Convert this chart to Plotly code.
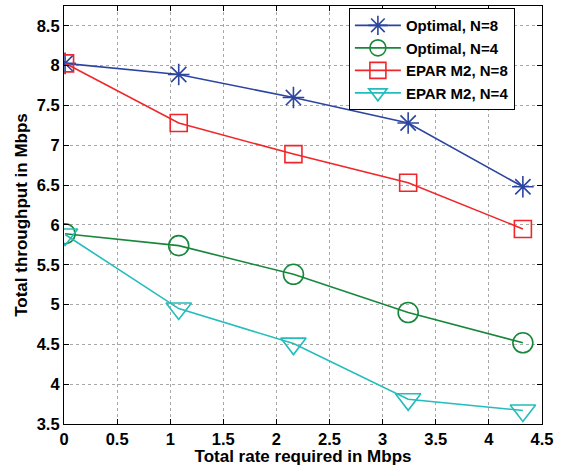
import plotly.graph_objects as go

# Required total rate (Mbps)
rate = [0.01, 1.08, 2.16, 3.24, 4.32]

# Total throughput (Mbps) per scheme
optimal_n8 = [8.03, 7.89, 7.60, 7.28, 6.48]
optimal_n4 = [5.89, 5.74, 5.38, 4.90, 4.52]
epar_n8 = [8.03, 7.28, 6.89, 6.53, 5.95]
epar_n4 = [5.88, 4.95, 4.51, 3.81, 3.67]

series = [
    ("Optimal, N=8", optimal_n8, "#2b45a0", "asterisk-open", 18),
    ("Optimal, N=4", optimal_n4, "#17873a", "circle-open", 20),
    ("EPAR M2, N=8", epar_n8, "#f0272a", "square-open", 17),
    ("EPAR M2, N=4", epar_n4, "#24bcbc", "triangle-down-open", 22),
]

fig = go.Figure()
for name, ys, color, symbol, size in series:
    fig.add_trace(go.Scatter(
        x=rate, y=ys, name=name, mode="lines+markers",
        line=dict(color=color, width=1.6),
        marker=dict(symbol=symbol, size=size, color=color,
                    line=dict(color=color, width=1.6)),
    ))

axis_common = dict(
    showline=True, linecolor="black", linewidth=1.2, mirror="ticks",
    ticks="inside", ticklen=5, tickcolor="black",
    showgrid=True, gridcolor="#a8a8a8", griddash="dot", gridwidth=1,
    zeroline=False,
    tickfont=dict(family="Liberation Sans, Arial", size=16.5, color="black", weight="bold"),
)

fig.update_layout(
    width=563, height=466,
    margin=dict(l=64, r=21, t=5, b=41),
    paper_bgcolor="white", plot_bgcolor="white",
    font=dict(family="Liberation Sans, Arial", color="black"),
    xaxis=dict(range=[0, 4.5], tick0=0, dtick=0.5,
               title=dict(text="Total rate required in Mbps", standoff=1,
                          font=dict(size=17, weight="bold")),
               **axis_common),
    yaxis=dict(range=[3.5, 8.75], tickvals=[3.5, 4, 4.5, 5, 5.5, 6, 6.5, 7, 7.5, 8, 8.5],
               ticktext=["3.5", "4", "4.5", "5", "5.5", "6", "6.5", "7", "7.5", "8", "8.5"],
               title=dict(text="Total throughput in Mbps", standoff=4,
                          font=dict(size=17, weight="bold")),
               **axis_common),
    legend=dict(x=0.596, y=0.995, xanchor="left", yanchor="top",
                bgcolor="white", bordercolor="black", borderwidth=1,
                font=dict(size=15, weight="bold"), itemwidth=46,
                tracegroupgap=0),
    showlegend=True,
)

fig.write_html("out.html")
